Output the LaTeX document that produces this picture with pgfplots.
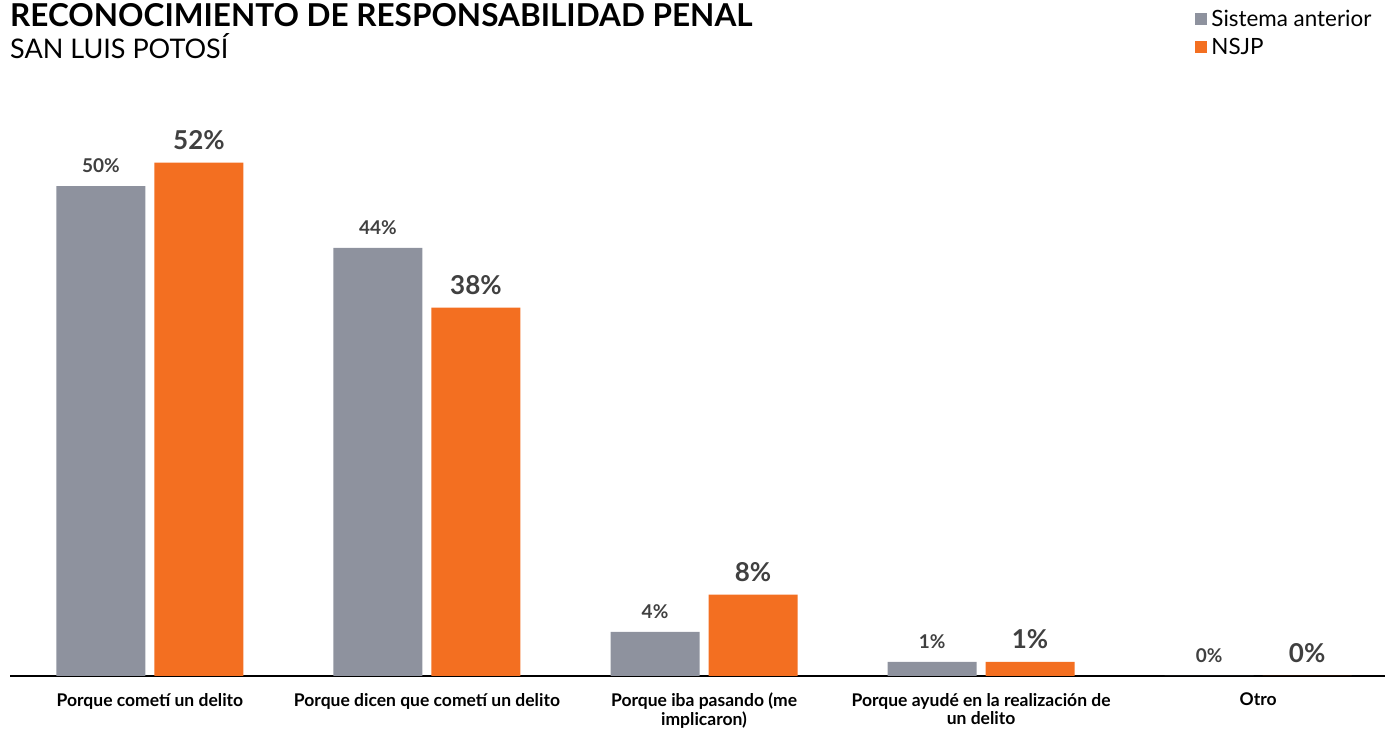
\documentclass[border=0pt]{standalone}
\usepackage{pgfplots}
\pgfplotsset{compat=1.18}
\usepackage{fontspec}
\setmainfont{Lato}
\definecolor{cgray}{HTML}{8E929E}
\definecolor{corange}{HTML}{F36F21}
\definecolor{ctext}{HTML}{404040}
\begin{document}
\begin{tikzpicture}[x=1bp,y=1bp]
\path[use as bounding box] (0,0) rectangle (1385,729);
\node[anchor=base west,inner sep=0] at (10,702) {\fontsize{31.5bp}{36bp}\selectfont\bfseries RECONOCIMIENTO DE RESPONSABILIDAD PENAL};
\node[anchor=base west,inner sep=0] at (10,670) {\fontsize{27bp}{32bp}\selectfont SAN LUIS POTOSÍ};
\begin{axis}[
  at={(10bp,53bp)}, anchor=south west,
  scale only axis, width=1375bp, height=566bp,
  xmin=-0.505, xmax=4.458, ymin=0, ymax=57.76,
  ybar=9bp, bar width=89bp,
  axis x line*=bottom, axis y line=none,
  x axis line style={black, line width=1.6bp},
  xtick=data, major tick length=0,
  xticklabels={{Porque cometí un delito},{Porque dicen que cometí un delito},{Porque iba pasando (me\\implicaron)},{Porque ayudé en la realización de\\un delito},{Otro}},
  xticklabel style={font=\fontsize{17.5bp}{18.5bp}\selectfont\bfseries, align=center, anchor=north, inner sep=0, yshift=-17bp},
  point meta=explicit symbolic,
  nodes near coords={\pgfplotspointmeta\%},
  legend style={at={(0.862,1.18)}, anchor=north west, draw=none, fill=none, font=\fontsize{22.4bp}{26bp}\selectfont, row sep=6bp, inner sep=0, nodes={inner xsep=4bp}},
  legend cell align=left,
  legend image code/.code={\fill[#1] (0bp,-6bp) rectangle (12bp,6bp);},
]
\addplot[fill=cgray, draw=none, nodes near coords style={font=\fontsize{19bp}{22bp}\selectfont\bfseries, text=ctext, anchor=south, inner sep=0, yshift=13bp}]
  coordinates {(0,50)[50] (1,43.7)[44] (2,4.5)[4] (3,1.45)[1] (4,0)[0]};
\addplot[fill=corange, draw=none, nodes near coords style={font=\fontsize{26bp}{29bp}\selectfont\bfseries, text=ctext, anchor=south, inner sep=0, yshift=13bp}]
  coordinates {(0,52.4)[52] (1,37.6)[38] (2,8.3)[8] (3,1.45)[1] (4,0)[0]};
\legend{Sistema anterior, NSJP}
\end{axis}
\end{tikzpicture}
\end{document}
